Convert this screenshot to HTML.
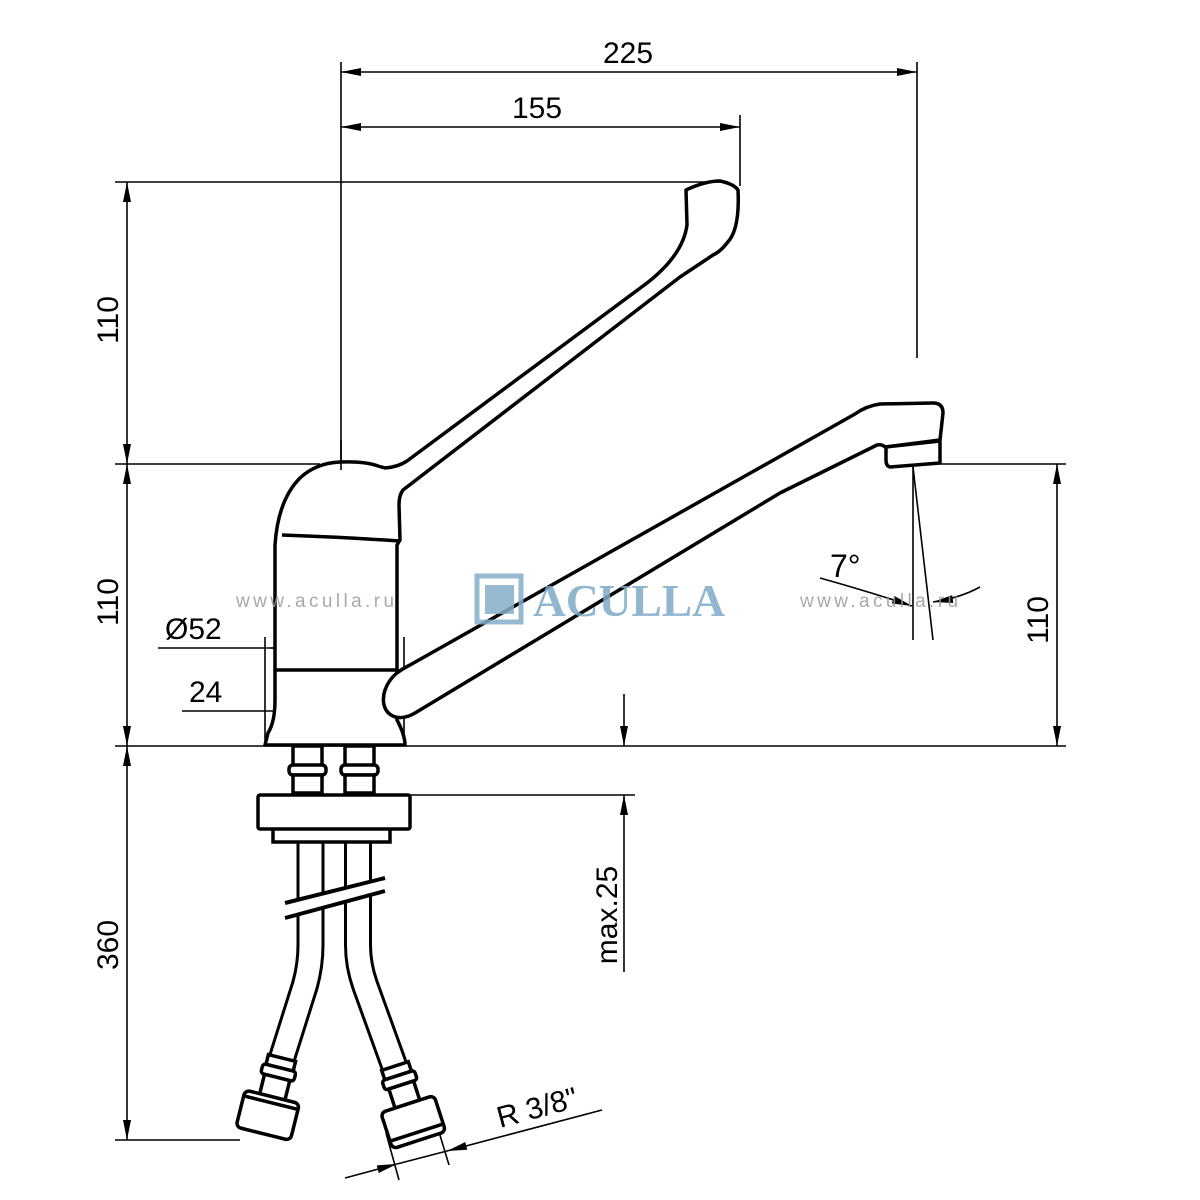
<!DOCTYPE html>
<html><head><meta charset="utf-8"><style>
html,body{margin:0;padding:0;background:#fff}
svg{display:block}
text{font-family:"Liberation Sans",sans-serif;fill:#000}
</style></head><body>
<svg width="1200" height="1200" viewBox="0 0 1200 1200" xmlns="http://www.w3.org/2000/svg">
<defs>
<marker id="a" viewBox="0 0 20 8" refX="20" refY="4" markerWidth="20" markerHeight="8" markerUnits="userSpaceOnUse" orient="auto-start-reverse"><path d="M0,0 L20,4 L0,8 Z" fill="#000"/></marker>
</defs>
<rect width="1200" height="1200" fill="#fff"/>

<g stroke="#000" stroke-width="1.6" fill="none">
<line x1="341" y1="62" x2="341" y2="470"/>
<line x1="917" y1="62" x2="917" y2="358"/>
<line x1="740" y1="115" x2="740" y2="186"/>
<line x1="341" y1="72" x2="917" y2="72" marker-start="url(#a)" marker-end="url(#a)"/>
<line x1="341" y1="127" x2="740" y2="127" marker-start="url(#a)" marker-end="url(#a)"/>
<line x1="115" y1="182" x2="705" y2="182"/>
<line x1="115" y1="464" x2="320" y2="464"/>
<line x1="115" y1="746" x2="1066" y2="746"/>
<line x1="115" y1="1140" x2="240" y2="1140"/>
<line x1="127" y1="182" x2="127" y2="464" marker-start="url(#a)" marker-end="url(#a)"/>
<line x1="127" y1="464" x2="127" y2="746" marker-start="url(#a)" marker-end="url(#a)"/>
<line x1="127" y1="746" x2="127" y2="1140" marker-start="url(#a)" marker-end="url(#a)"/>
<line x1="940" y1="464" x2="1066" y2="464"/>
<line x1="1057" y1="464" x2="1057" y2="746" marker-start="url(#a)" marker-end="url(#a)"/>
<line x1="624" y1="694" x2="624" y2="746" marker-end="url(#a)"/>
<line x1="624" y1="972" x2="624" y2="795" marker-end="url(#a)"/>
<line x1="410" y1="795" x2="635" y2="795"/>
<line x1="158" y1="648" x2="268" y2="648"/>
<line x1="268" y1="648" x2="398" y2="648" marker-start="url(#a)" marker-end="url(#a)"/>
<line x1="265" y1="637" x2="265" y2="745"/>
<line x1="404" y1="637" x2="404" y2="745"/>
<line x1="182" y1="711" x2="294" y2="711"/>
<line x1="294" y1="711" x2="375" y2="711" marker-start="url(#a)" marker-end="url(#a)"/>
<line x1="293" y1="700" x2="293" y2="740"/>
<line x1="375" y1="700" x2="375" y2="740"/>
<line x1="345" y1="1178" x2="397" y2="1164" marker-end="url(#a)"/>
<line x1="602" y1="1110" x2="447" y2="1151" marker-end="url(#a)"/>
<line x1="397" y1="1164" x2="447" y2="1151"/>
<line x1="386" y1="1133" x2="399" y2="1180"/>
<line x1="436" y1="1122" x2="449" y2="1165"/>
<line x1="913" y1="467" x2="913" y2="640"/>
<line x1="913" y1="467" x2="933" y2="640"/>
<path d="M820,578 Q870,592 912,606" marker-end="url(#a)"/>
<path d="M980,587 Q960,598 933,602" marker-end="url(#a)"/>
</g>

<g font-size="30">
<text x="628" y="63" text-anchor="middle">225</text>
<text x="537" y="118" text-anchor="middle">155</text>
<text transform="translate(118,320) rotate(-90)" text-anchor="middle">110</text>
<text transform="translate(118,602) rotate(-90)" text-anchor="middle">110</text>
<text transform="translate(118,945) rotate(-90)" text-anchor="middle">360</text>
<text transform="translate(1048,620) rotate(-90)" text-anchor="middle">110</text>
<text transform="translate(617,915) rotate(-90)" text-anchor="middle">max.25</text>
<text x="165" y="639">Ø52</text>
<text x="189" y="702">24</text>
<text x="830" y="577" font-size="32">7°</text>
<text transform="translate(500,1128) rotate(-15)">R 3/8"</text>
</g>

<g fill="none" stroke-linejoin="round">
<path d="M310.5,842 L310.5,945 Q310.5,965 305,985 L282,1058" stroke="#000" stroke-width="28"/>
<path d="M310.5,842 L310.5,945 Q310.5,965 305,985 L282,1058" stroke="#fff" stroke-width="22"/>
<path d="M358,842 L358,945 Q358,965 365,985 L395,1068" stroke="#000" stroke-width="28"/>
<path d="M358,842 L358,945 Q358,965 365,985 L395,1068" stroke="#fff" stroke-width="22"/>
</g>
<polygon points="280,904 390,877 390,889 280,919" fill="#fff"/>
<g stroke="#000" stroke-width="4">
<line x1="285" y1="903" x2="385" y2="878"/>
<line x1="285" y1="918" x2="385" y2="891"/>
</g>
<g transform="translate(282,1058) rotate(14)" fill="#fff" stroke="#000" stroke-width="3.5">
<rect x="-14" y="0" width="28" height="10"/>
<rect x="-17" y="10" width="34" height="10" rx="3"/>
<rect x="-13" y="20" width="26" height="20"/>
<rect x="-28" y="40" width="56" height="38" rx="5"/>
<line x1="-28" y1="46" x2="28" y2="46"/>
</g>
<g transform="translate(395,1066) rotate(-18)" fill="#fff" stroke="#000" stroke-width="3.5">
<rect x="-14" y="0" width="28" height="10"/>
<rect x="-17" y="10" width="34" height="10" rx="3"/>
<rect x="-13" y="20" width="26" height="20"/>
<rect x="-28" y="40" width="56" height="38" rx="5"/>
<line x1="-28" y1="70" x2="28" y2="70"/>
</g>

<g fill="#fff" stroke="#000" stroke-width="3.5">
<rect x="273" y="828" width="117" height="14"/>
<rect x="258" y="795" width="152" height="34" rx="2"/>
<rect x="293" y="746" width="29" height="20"/>
<rect x="289" y="765" width="37" height="10" rx="4"/>
<rect x="293" y="775" width="29" height="18"/>
<rect x="345" y="746" width="29" height="20"/>
<rect x="341" y="765" width="37" height="10" rx="4"/>
<rect x="345" y="775" width="29" height="18"/>
</g>

<path d="M265,745 L268,733 Q275,722 275,700 L275,545 Q278,500 300,478 Q316,463 340,462 Q365,461 378,466 L385,468 Q398,467 407,461 L647,283 Q683,255 687,225 L686,190 Q705,181 720,181 Q734,184 738,190 Q740,230 727,243 Q720,252 713,255 L680,277 L403,490 Q399,495 399,505 L400,540 L397,545 L397,720 Q405,735 405,745 Z" fill="#fff" stroke="#000" stroke-width="3.5" stroke-linejoin="round"/>
<path d="M282,535 Q340,537 400,541" fill="none" stroke="#000" stroke-width="3.5"/>
<line x1="275" y1="670" x2="397" y2="670" stroke="#000" stroke-width="3.5"/>
<line x1="341" y1="440" x2="341" y2="470" stroke="#000" stroke-width="1.6"/>

<path d="M415,713 L780,493 L877,445 Q882,444 885,447 L940,440 L943,413 Q943,403 933,403 L880,404 Q866,406 855,414 L410,665 C400,670 390,676 385,690 C378,712 395,725 415,713 Z" fill="#fff" stroke="#000" stroke-width="3.5" stroke-linejoin="round"/>
<path d="M886,447 L940,441 L940,463 L890,467 Q886,466 886,460 Z" fill="#fff" stroke="#000" stroke-width="3.5" stroke-linejoin="round"/>

<g opacity="0.85">
<text x="236" y="607" font-size="19" letter-spacing="3.4" style="fill:#9a9a9a">www.aculla.ru</text>
<text x="800" y="607" font-size="19" letter-spacing="3.4" style="fill:#9a9a9a">www.aculla.ru</text>
<rect x="477" y="576" width="44" height="46" fill="none" stroke="#86afc9" stroke-width="5"/>
<rect x="485" y="585" width="29" height="29" fill="#86afc9"/>
<text x="533" y="616" font-size="46" font-weight="bold" textLength="192" lengthAdjust="spacingAndGlyphs" style="fill:#7eaac7;font-family:'Liberation Serif',serif">ACULLA</text>
</g>
</svg>
</body></html>
